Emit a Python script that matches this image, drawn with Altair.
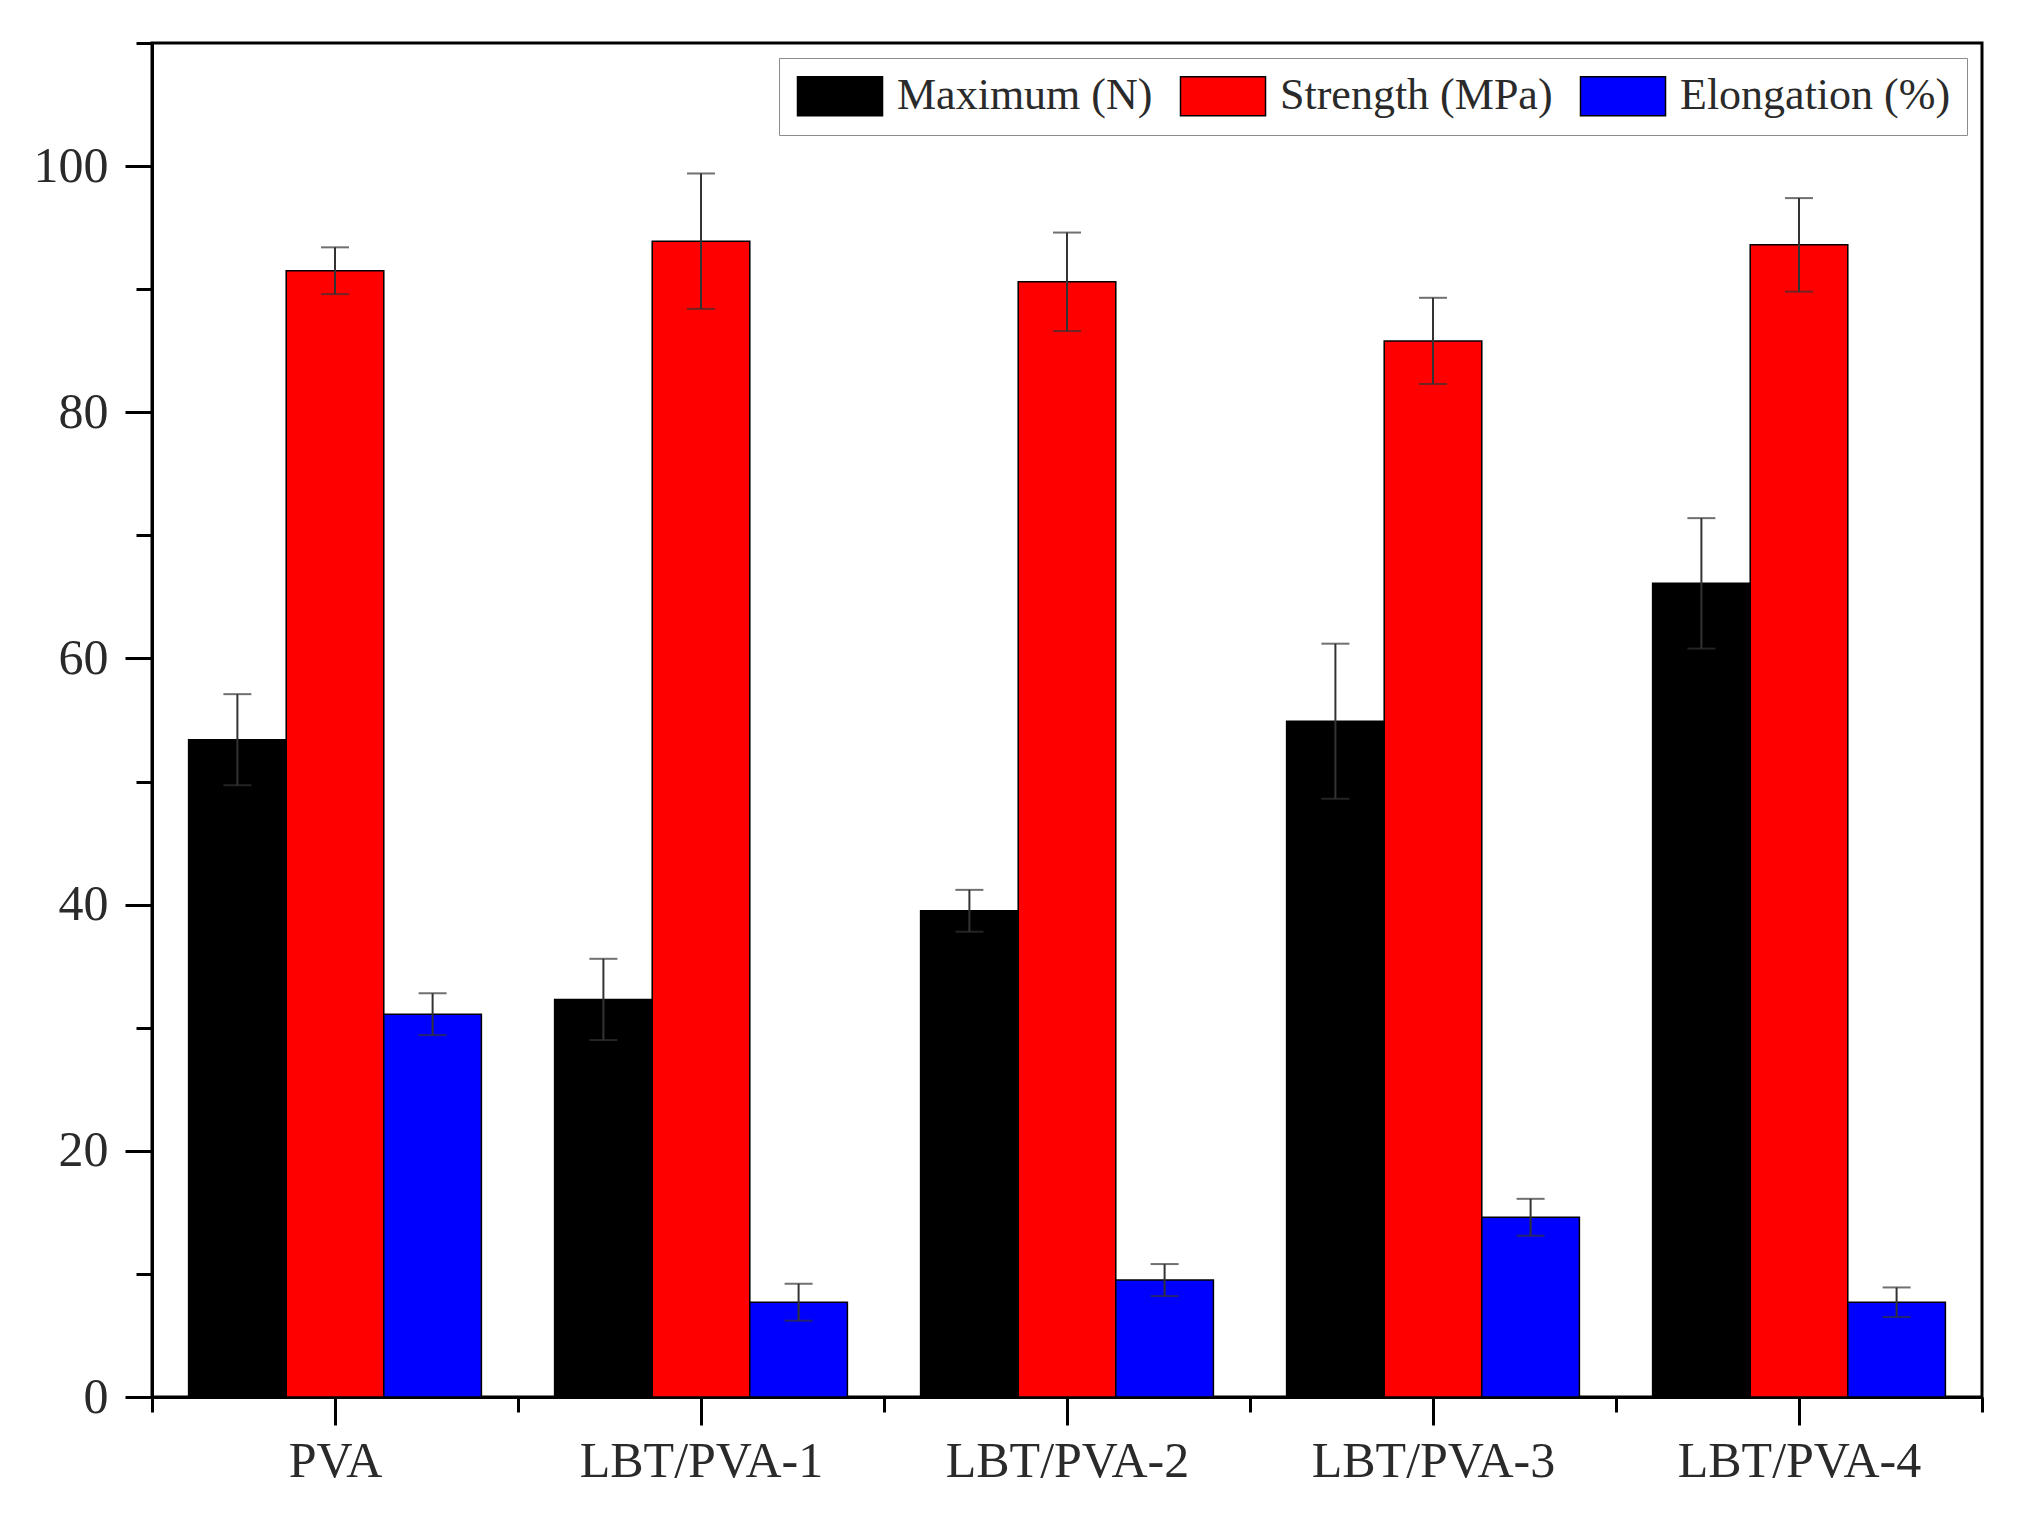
import altair as alt
import pandas as pd

categories = ["PVA", "LBT/PVA-1", "LBT/PVA-2", "LBT/PVA-3", "LBT/PVA-4"]
series_names = ["Maximum (N)", "Strength (MPa)", "Elongation (%)"]
series_colors = ["#000000", "#ff0000", "#0000ff"]

maximum = [53.4, 32.3, 39.5, 54.9, 66.1]
maximum_err = [3.7, 3.3, 1.7, 6.3, 5.3]
strength = [91.5, 93.9, 90.6, 85.8, 93.6]
strength_err = [1.9, 5.5, 4.0, 3.5, 3.8]
elongation = [31.1, 7.7, 9.5, 14.6, 7.7]
elongation_err = [1.7, 1.5, 1.3, 1.5, 1.2]

y_major = [0, 20, 40, 60, 80, 100]
y_minor = [10, 30, 50, 70, 90, 110]

values = [maximum, strength, elongation]
errors = [maximum_err, strength_err, elongation_err]

rows = []
for i, cat in enumerate(categories):
    for s, name in enumerate(series_names):
        v = values[s][i]
        e = errors[s][i]
        rows.append({"category": cat, "series": name, "value": v,
                     "lo": v - e, "hi": v + e})
df = pd.DataFrame(rows)

FONT = "Liberation Serif"
TXT = "#2a2a2a"

xscale = alt.Scale(paddingInner=0, paddingOuter=0)
offscale = alt.Scale(paddingInner=0, paddingOuter=0.375)
yscale = alt.Scale(domain=[0, 110], nice=False, zero=True)

base = alt.Chart(df)

bars = base.mark_bar(stroke="#000000", strokeWidth=1.5).encode(
    x=alt.X("category:N", sort=categories, scale=xscale,
            axis=alt.Axis(title=None, labelAngle=0, tickBand="extent",
                          tickSize=15, labelPadding=24, orient="bottom",
                          labelFontSize=50, labelFont=FONT, labelColor=TXT,
                          labelLimit=600)),
    xOffset=alt.XOffset("series:N", sort=series_names, scale=offscale),
    y=alt.Y("value:Q", scale=yscale,
            axis=alt.Axis(title=None, values=y_major, tickSize=27,
                          labelPadding=17, orient="left",
                          labelFontSize=50, labelFont=FONT, labelColor=TXT)),
    color=alt.Color("series:N", sort=series_names,
                    scale=alt.Scale(domain=series_names, range=series_colors),
                    legend=alt.Legend(
                        title=None, orient="top-right", direction="horizontal",
                        offset=15, padding=16, columnPadding=24,
                        symbolType="M-1,-1H3.36V1H-1Z", symbolSize=1521,
                        symbolStrokeColor="#000000", symbolStrokeWidth=1.5,
                        symbolOpacity=1,
                        labelOffset=58, labelFont=FONT, labelFontSize=44,
                        labelColor=TXT, labelLimit=500,
                        strokeColor="#8c8c8c", fillColor="#ffffff")),
)

err = base.mark_rule(color="#333333", strokeWidth=2).encode(
    x=alt.X("category:N", sort=categories, scale=xscale,
            axis=alt.Axis(title=None, labels=False, domain=False,
                          tickBand="center", tickSize=28, orient="bottom")),
    xOffset=alt.XOffset("series:N", sort=series_names, scale=offscale),
    y=alt.Y("lo:Q", scale=yscale,
            axis=alt.Axis(title=None, labels=False, domain=False,
                          values=y_minor, tickSize=16, orient="left")),
    y2="hi:Q",
)

caps = base.transform_fold(["lo", "hi"], as_=["end", "pos"]).mark_tick(
    color="#333333", thickness=2, size=28).encode(
    x=alt.X("category:N", sort=categories, scale=xscale, axis=None),
    xOffset=alt.XOffset("series:N", sort=series_names, scale=offscale),
    y=alt.Y("pos:Q", scale=yscale, axis=None),
)

chart = alt.layer(bars, err, caps).resolve_axis(
    x="independent", y="independent"
).properties(
    width=1830, height=1354,
    autosize=alt.AutoSizeParams(type="none"),
    padding={"left": 144, "top": 35, "right": 37, "bottom": 110},
    background="#ffffff",
).configure_view(
    stroke="#000000", strokeWidth=3
).configure_axis(
    grid=False, domainColor="#000000", domainWidth=3,
    tickColor="#000000", tickWidth=3,
)

chart.save("out.html", embed_options={"renderer": "svg", "actions": False})
